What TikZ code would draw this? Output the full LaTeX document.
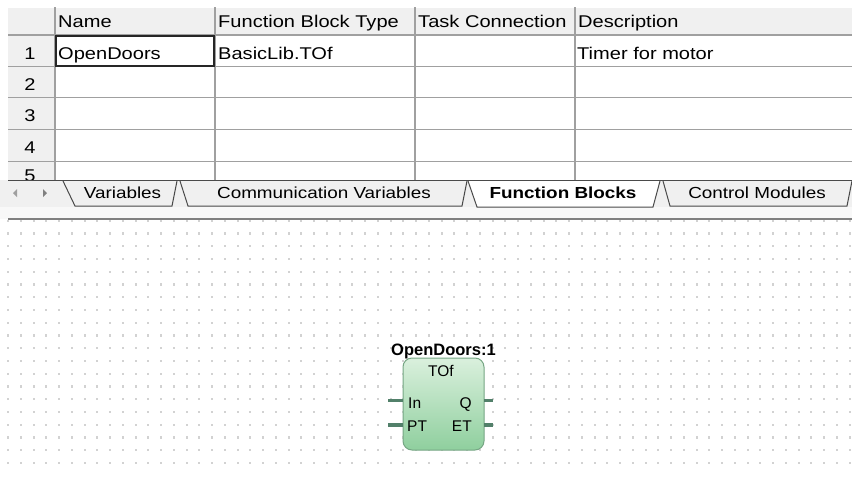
\documentclass[tikz,border=0pt]{standalone}
\usepackage{fontspec}
\setmainfont[FakeStretch=1.18]{Liberation Sans}
\newfontfamily\blockfont[FakeStretch=1.0]{Liberation Sans}
\definecolor{gridline}{HTML}{A0A0A0}
\definecolor{headfill}{HTML}{F0F0F0}
\definecolor{tabedge}{HTML}{4A4A4A}
\definecolor{dotgray}{HTML}{D2D2D2}
\definecolor{fbtop}{HTML}{DAF0DD}
\definecolor{fbbottom}{HTML}{8FCF9E}
\definecolor{fbedge}{HTML}{76A684}
\definecolor{pingreen}{HTML}{52806A}
\tikzset{
  celltext/.style={anchor=base west, inner sep=0pt, font=\fontsize{17}{20}\selectfont},
  rownum/.style={anchor=base, inner sep=0pt, font=\fontsize{17}{20}\selectfont},
  tabtext/.style={anchor=base, inner sep=0pt, font=\fontsize{16}{19}\selectfont},
  tabshape/.style={draw=tabedge, line width=1pt, fill=headfill},
  fbbox/.style={draw=fbedge, line width=1pt, rounded corners=9pt, top color=fbtop, bottom color=fbbottom, minimum width=81pt, minimum height=92pt, inner sep=0pt},
  fbpin/.style={draw=pingreen, line width=3.6pt},
  pinlabel/.style={inner sep=0pt, font=\blockfont\fontsize{15.5}{18}\selectfont},
}
\begin{document}
\begin{tikzpicture}[x=1pt,y=-1pt]
  \useasboundingbox (0,0) rectangle (852,477);
  \fill[white] (0,0) rectangle (852,477);

  % Drawing table, clipped by tab bar
  \begin{scope}
    \clip (0,0) rectangle (852,180);
    \fill[headfill] (8,8) rectangle (852,35);%
    \fill[headfill] (8,35) rectangle (55,180);%
    % row lines
    \foreach \r in {35,66.7,97.7,129.7,161.7}
      \draw[gridline, line width=1.5pt] (8,\r) -- (852,\r);%
    % column lines
    \foreach \c in {55,215,415,575}
      \draw[gridline, line width=1.5pt] (\c,7) -- (\c,180);%
    % selected cell
    \draw[black!85, line width=1.8pt] (55.9,35.9) rectangle (214.3,66);%
    % header texts
    \node[celltext] (hdName) at (58,27.3) {Name};%
    \node[celltext] (hdType) at (218,27.3) {Function Block Type};%
    \node[celltext] (hdTask) at (418,27.3) {Task Connection};%
    \node[celltext] (hdDesc) at (578,27.3) {Description};%
    % row 1
    \node[celltext] (cellName) at (58,59.5) {OpenDoors};%
    \node[celltext] (cellType) at (218,59.5) {BasicLib.TOf};%
    \node[celltext] (cellDesc) at (577,59.5) {Timer for motor};%
    % row numbers
    \foreach \n/\b in {1/59.5,2/90.5,3/121.7,4/153.3,5/181.5}
      \node[rownum] (num\n) at (30,\b) {\n};%
  \end{scope}

  % Drawing tab bar
  \fill[headfill] (0,180) rectangle (852,219);%
  \fill[white!50!headfill] (0,207) rectangle (852,219);%
  \draw[tabedge, line width=1.5pt] (8,180.5) -- (852,180.5);%
  \fill[gray!75] (17,189) -- (17,197) -- (13,193) -- cycle;%
  \fill[gray] (43,189) -- (43,197) -- (47,193) -- cycle;%
  \draw[tabshape] (63,181) -- (75,206) -- (172,206) -- (177,181);%
  \draw[tabshape] (180,181) -- (188,206) -- (462,206) -- (467,181);%
  \draw[tabshape] (663,181) -- (670,206) -- (847,206) -- (852,181);%
  \draw[tabshape, fill=white] (468,181) -- (477,207) -- (653,207) -- (660,181);%
  \node[tabtext] (tabVar) at (122.5,198.3) {Variables};%
  \node[tabtext] (tabComm) at (324,198.3) {Communication Variables};%
  \node[tabtext, font=\fontsize{16}{19}\selectfont\bfseries] (tabFB) at (563,198.3) {Function Blocks};%
  \node[tabtext] (tabCM) at (757,198.3) {Control Modules};%
  \draw[gray, line width=1.2pt] (8,219) -- (852,219);%

  % Marking grid dots
  \foreach \i in {0,...,66}
    \foreach \j in {0,...,19}
      \fill[dotgray] (7+12.75*\i, 219.6+12.75*\j) rectangle ++(2.2,2.2);%

  % Drawing function block OpenDoors:1
  \node[fbbox] (fb) at (443.5,404) {};%
  \node[anchor=base, inner sep=0pt, font=\blockfont\fontsize{16.5}{19}\selectfont\bfseries] (fbName) at (443.5,355) {OpenDoors:1};%
  \node[pinlabel, anchor=base] (fbType) at (441,376.7) {TOf};%
  \node[pinlabel, anchor=base west] (lblIn) at (408,408) {In};%
  \node[pinlabel, anchor=base west] (lblPT) at (407,431.6) {PT};%
  \node[pinlabel, anchor=base east] (lblQ) at (472,408) {Q};%
  \node[pinlabel, anchor=base east] (lblET) at (472,431.6) {ET};%

  % Drawing pins
  \coordinate (inL) at (388,400.5);
  \coordinate (inR) at (403,400.5);
  \coordinate (ptL) at (388,425);
  \coordinate (ptR) at (403,425);
  \coordinate (qL) at (484,400.5);
  \coordinate (qR) at (493,400.5);
  \coordinate (etL) at (484,425);
  \coordinate (etR) at (493,425);
  \draw[fbpin] (inL) -- (inR);%
  \draw[fbpin] (ptL) -- (ptR);%
  \draw[fbpin] (qL) -- (qR);%
  \draw[fbpin] (etL) -- (etR);%
\end{tikzpicture}
\end{document}
